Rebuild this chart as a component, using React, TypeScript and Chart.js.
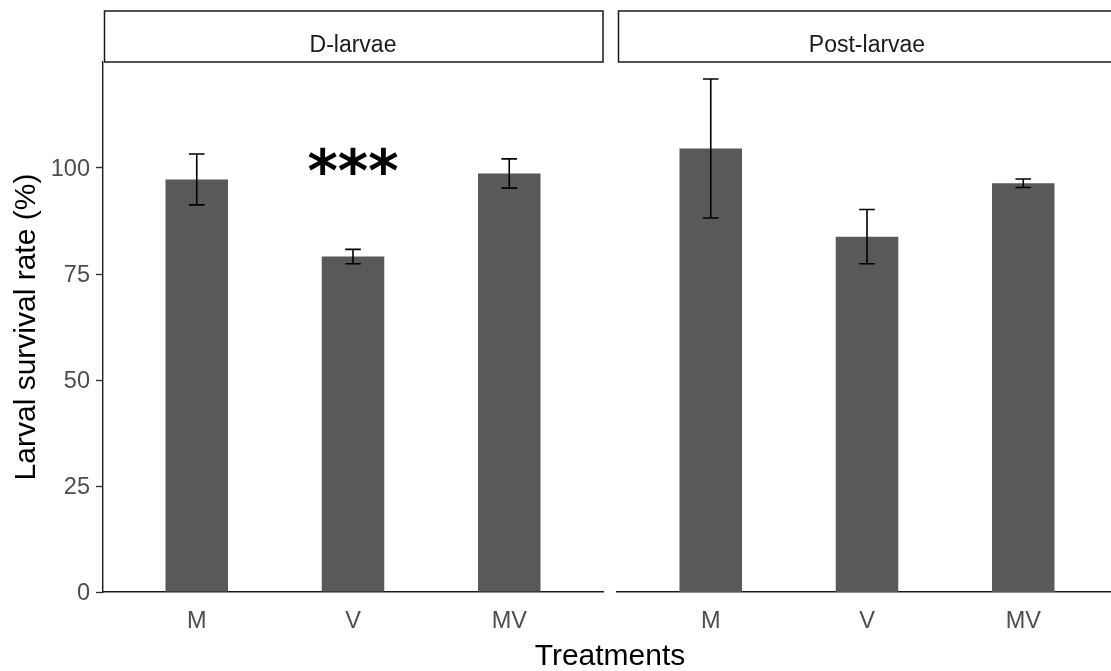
import React, { useEffect, useRef } from "react";
import { Chart, registerables } from "chart.js";

Chart.register(...registerables);

// ---------- data ----------
const categories = ["M", "V", "MV"];
const stageLabels = ["D-larvae", "Post-larvae"];
const dLarvaeMeans = [97.3, 79.1, 98.7];
const dLarvaeErrors = [6.0, 1.7, 3.45];
const postLarvaeMeans = [104.6, 83.8, 96.4];
const postLarvaeErrors = [16.4, 6.4, 1.0];
const dLarvaeSignif = ["", "***", ""];
const postLarvaeSignif = ["", "", ""];
const signifLevel = 102.2;
const yTicks = [0, 25, 50, 75, 100];
const yMax = 125;
const xTitle = "Treatments";
const yTitle = "Larval survival rate (%)";

// ---------- style ----------
const FONT = "'Liberation Sans', Arial, sans-serif";
const TICK_COLOR = "#4d4d4d";
const BAR_COLOR = "#595959";
const W = 1111;
const H = 671;
const PANEL_TOP = 62;
const PANEL_BOTTOM = 592;
const STRIP_TOP = 11;
const LEFT_PANEL_L = 103;
const LEFT_PANEL_R = 603;
const RIGHT_CANVAS_L = 610;
const RIGHT_PANEL_L = 617;
const UNIT = (LEFT_PANEL_R - LEFT_PANEL_L) / 3.2;

const facetPlugin = {
  id: "facet",
  afterDatasetsDraw(chart: any, _args: any, opts: any) {
    const { ctx, chartArea, scales } = chart;
    const x = scales.x;
    const y = scales.y;
    const means: number[] = opts.means;
    const errors: number[] = opts.errors;
    ctx.save();
    // error bars
    ctx.strokeStyle = "#000";
    ctx.lineWidth = 1.6;
    means.forEach((m, i) => {
      const px = x.getPixelForValue(i + 1);
      const cl = x.getPixelForValue(i + 1 - 0.05);
      const cr = x.getPixelForValue(i + 1 + 0.05);
      const top = y.getPixelForValue(m + errors[i]);
      const bot = y.getPixelForValue(m - errors[i]);
      ctx.beginPath();
      ctx.moveTo(px, top);
      ctx.lineTo(px, bot);
      ctx.moveTo(cl, top);
      ctx.lineTo(cr, top);
      ctx.moveTo(cl, bot);
      ctx.lineTo(cr, bot);
      ctx.stroke();
    });
    // significance
    const sig: string[] = opts.signif;
    const starSize = 58;
    ctx.fillStyle = "#000";
    ctx.font = `bold ${starSize}px 'DejaVu Sans', sans-serif`;
    ctx.textAlign = "center";
    ctx.textBaseline = "alphabetic";
    sig.forEach((s, i) => {
      if (!s) return;
      ctx.fillText(s, x.getPixelForValue(i + 1), y.getPixelForValue(signifLevel) + 0.56 * starSize);
    });
    // strip
    const sl = x.getPixelForValue(0.4);
    const sr = x.getPixelForValue(3.6);
    ctx.fillStyle = "#fff";
    ctx.fillRect(sl, STRIP_TOP, sr - sl, chartArea.top - STRIP_TOP);
    ctx.strokeStyle = "#1a1a1a";
    ctx.lineWidth = 1.5;
    ctx.strokeRect(sl + 1.5, STRIP_TOP, sr - sl - 1.5, chartArea.top - STRIP_TOP);
    ctx.fillStyle = "#1a1a1a";
    ctx.font = `23px ${FONT}`;
    ctx.textAlign = "center";
    ctx.textBaseline = "alphabetic";
    ctx.fillText(opts.strip, x.getPixelForValue(2), 52);
    // overall x title
    if (opts.xTitle) {
      ctx.fillStyle = "#000";
      ctx.font = `30px ${FONT}`;
      ctx.fillText(opts.xTitle, 610, 665);
    }
    ctx.restore();
  },
};

function makeConfig(
  means: number[],
  errors: number[],
  signif: string[],
  strip: string,
  isLeft: boolean,
  xMax: number
): any {
  return {
    type: "bar",
    data: {
      datasets: [
        {
          data: means.map((m, i) => ({ x: i + 1, y: m })),
          backgroundColor: BAR_COLOR,
          borderWidth: 0,
          barPercentage: 0.4,
          categoryPercentage: 1,
        },
      ],
    },
    plugins: [facetPlugin],
    options: {
      animation: false,
      responsive: false,
      maintainAspectRatio: false,
      events: [],
      layout: {
        padding: isLeft
          ? { top: PANEL_TOP, left: 0, right: W - LEFT_PANEL_R, bottom: 0 }
          : { top: PANEL_TOP, left: RIGHT_PANEL_L - RIGHT_CANVAS_L, right: 0, bottom: 0 },
      },
      plugins: {
        legend: { display: false },
        tooltip: { enabled: false },
        facet: { means, errors, signif, strip, xTitle: isLeft ? xTitle : "" },
      },
      scales: {
        x: {
          type: "linear",
          offset: false,
          min: 0.4,
          max: xMax,
          afterBuildTicks: (s: any) => {
            s.ticks = categories.map((_, i) => ({ value: i + 1 }));
          },
          afterFit: (s: any) => {
            s.height = H - PANEL_BOTTOM;
          },
          ticks: {
            callback: (v: any) => categories[Math.round(v) - 1],
            color: TICK_COLOR,
            font: { family: FONT, size: 23.5 },
            padding: 15,
            maxRotation: 0,
            autoSkip: false,
          },
          grid: { display: true, offset: false, drawOnChartArea: false, drawTicks: false },
          border: { display: true, color: "#1a1a1a", width: 1.4 },
        },
        y: {
          display: isLeft,
          min: 0,
          max: yMax,
          afterBuildTicks: (s: any) => {
            s.ticks = yTicks.map((v) => ({ value: v }));
          },
          afterFit: (s: any) => {
            s.width = isLeft ? LEFT_PANEL_L : 0;
          },
          ticks: {
            color: TICK_COLOR,
            font: { family: FONT, size: 23.5 },
            padding: 6,
            labelOffset: 2,
          },
          grid: {
            display: true,
            drawOnChartArea: false,
            drawTicks: true,
            tickLength: 7,
            tickColor: "#333",
            tickWidth: 1.4,
          },
          border: { display: true, color: "#1a1a1a", width: 1.4 },
          title: {
            display: true,
            text: yTitle,
            color: "#000",
            font: { family: FONT, size: 30 },
            padding: { top: 9, bottom: 0 },
          },
        },
      },
    },
  };
}

export default function App() {
  const leftRef = useRef<HTMLCanvasElement>(null);
  const rightRef = useRef<HTMLCanvasElement>(null);

  useEffect(() => {
    const c1 = new Chart(
      leftRef.current as HTMLCanvasElement,
      makeConfig(dLarvaeMeans, dLarvaeErrors, dLarvaeSignif, stageLabels[0], true, 3.6)
    );
    const rightMax = 0.4 + (W - RIGHT_PANEL_L) / UNIT;
    const c2 = new Chart(
      rightRef.current as HTMLCanvasElement,
      makeConfig(postLarvaeMeans, postLarvaeErrors, postLarvaeSignif, stageLabels[1], false, rightMax)
    );
    return () => {
      c1.destroy();
      c2.destroy();
    };
  }, []);

  return (
    <div style={{ position: "absolute", left: 0, top: 0, width: W, height: H, background: "#fff" }}>
      <canvas
        ref={leftRef}
        width={W}
        height={H}
        style={{ position: "absolute", left: 0, top: 0, width: W, height: H }}
      />
      <canvas
        ref={rightRef}
        width={W - RIGHT_CANVAS_L}
        height={H}
        style={{ position: "absolute", left: RIGHT_CANVAS_L, top: 0, width: W - RIGHT_CANVAS_L, height: H }}
      />
    </div>
  );
}
